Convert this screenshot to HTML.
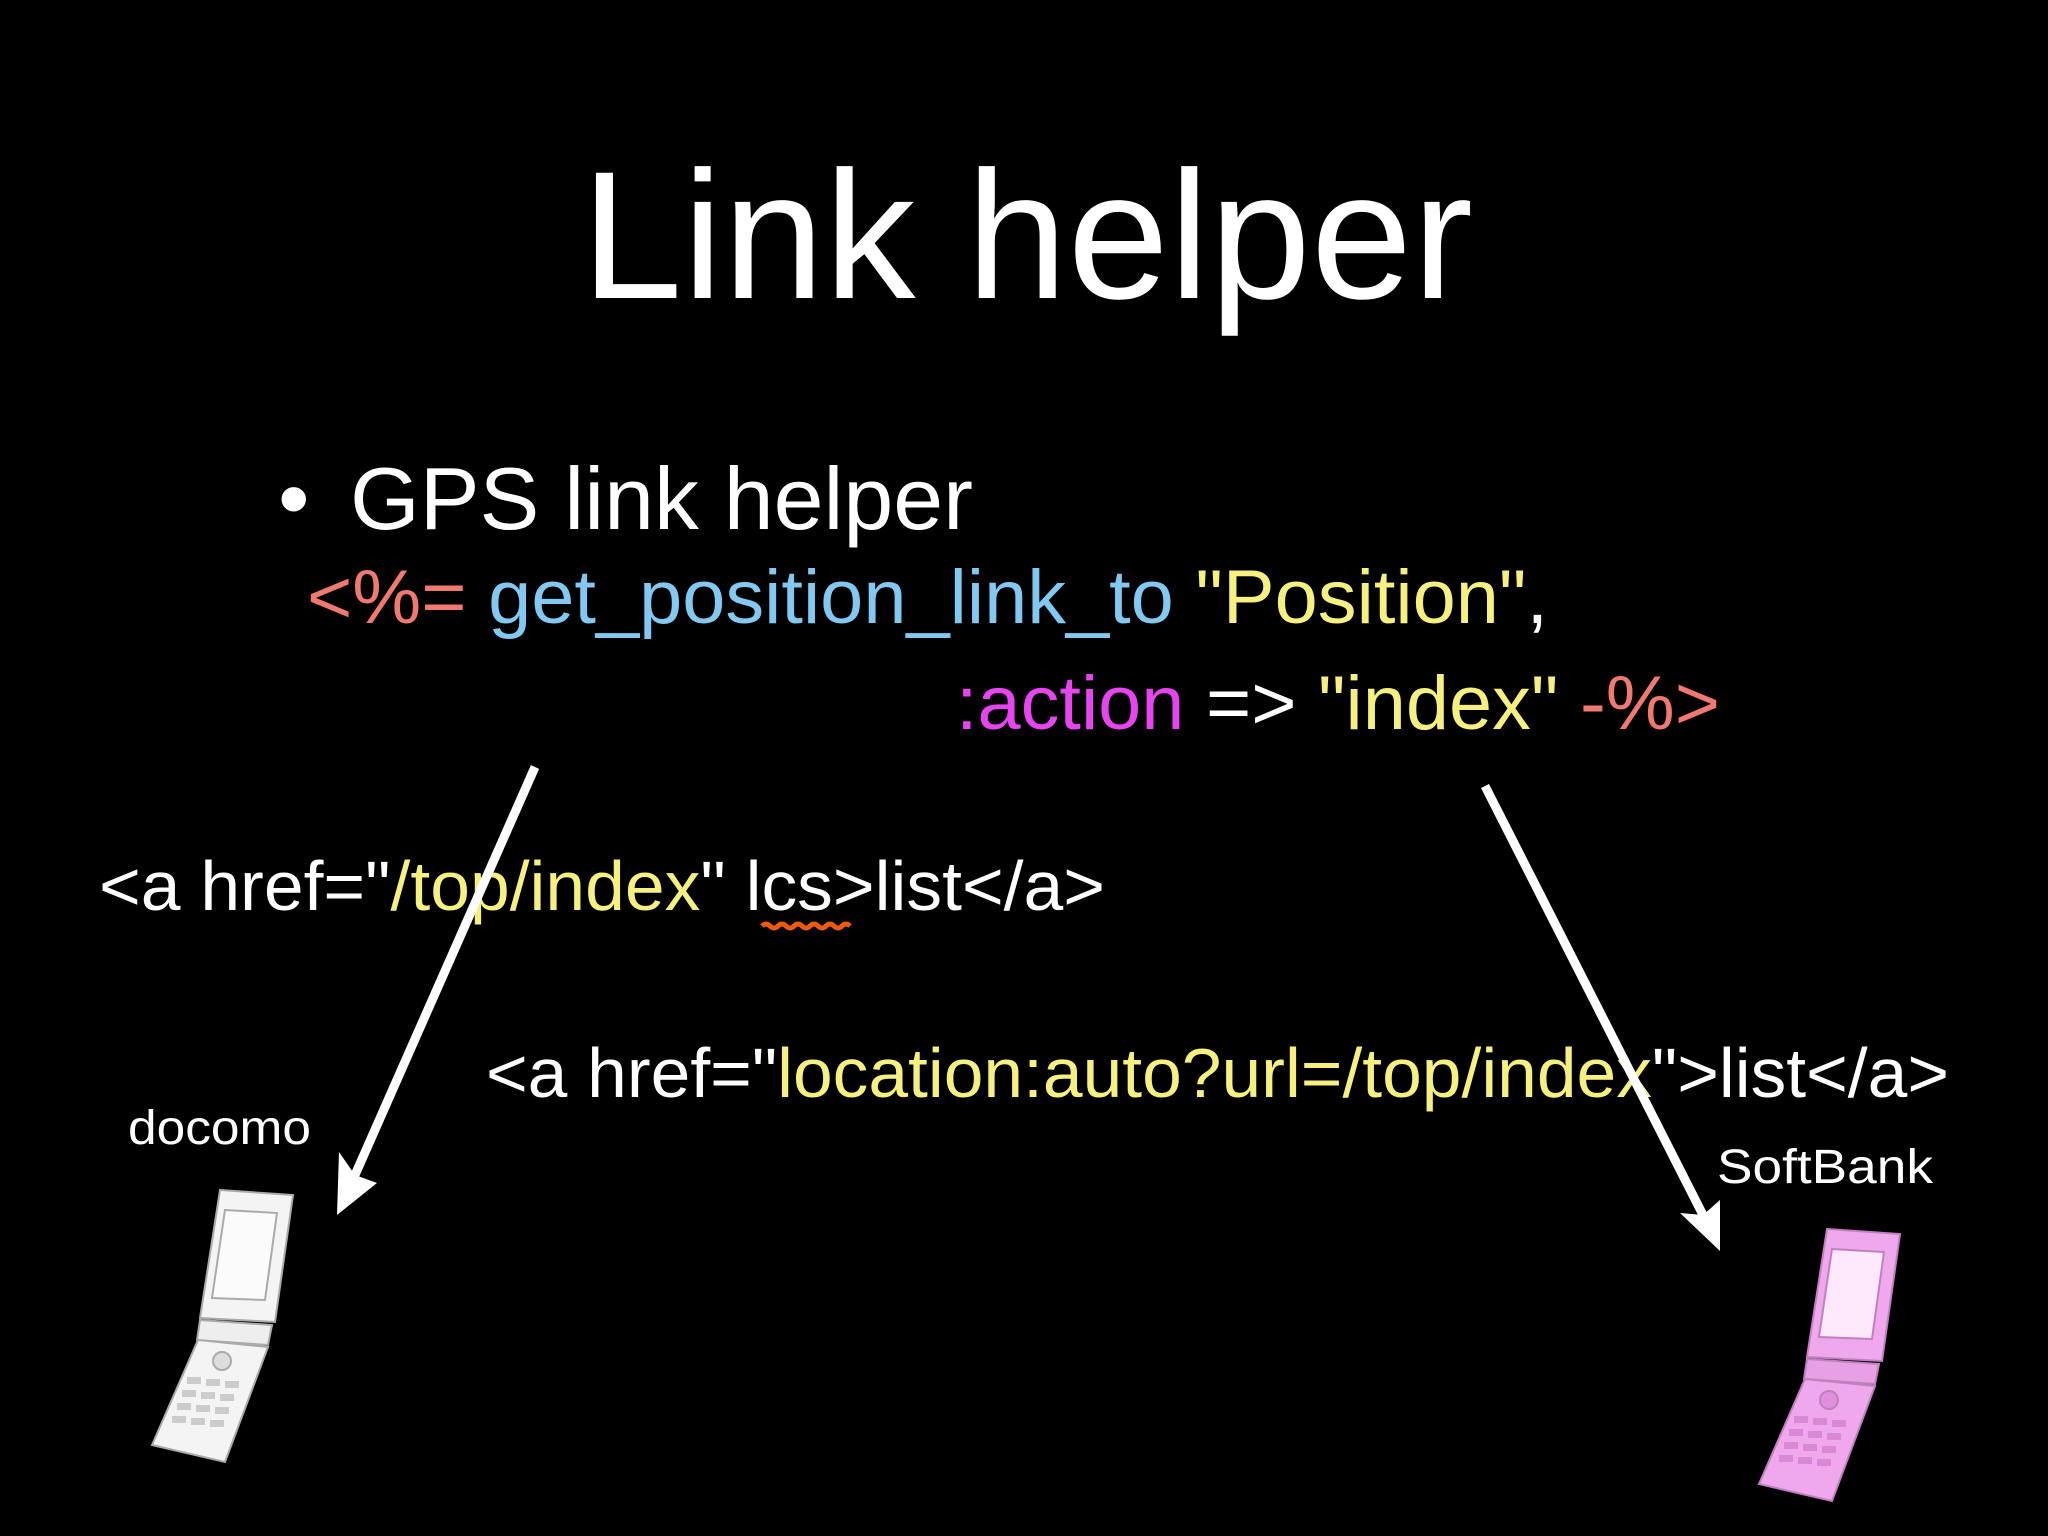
<!DOCTYPE html>
<html><head><meta charset="utf-8"><style>
html,body{margin:0;padding:0;background:#000;}
svg{display:block;}
text{font-family:"Liberation Sans","DejaVu Sans",sans-serif;}
</style></head><body>
<svg width="2048" height="1536" viewBox="0 0 2048 1536" xmlns="http://www.w3.org/2000/svg">
<rect width="2048" height="1536" fill="#000"/>
<text x="581" y="298" font-size="182" fill="#fff" textLength="892" lengthAdjust="spacingAndGlyphs">Link helper</text>
<text x="278" y="529" font-size="90" fill="#fff">•</text>
<text x="350" y="529" font-size="88" fill="#fff" textLength="623" lengthAdjust="spacingAndGlyphs">GPS link helper</text>
<text x="307" y="623" font-size="76" textLength="1241" lengthAdjust="spacingAndGlyphs"><tspan fill="#f07a70">&lt;%=</tspan><tspan fill="#fff"> </tspan><tspan fill="#82c8f0">get_position_link_to</tspan><tspan fill="#fff"> </tspan><tspan fill="#f5f080">"Position"</tspan><tspan fill="#fff">,</tspan></text>
<text x="956" y="729" font-size="76" textLength="764" lengthAdjust="spacingAndGlyphs"><tspan fill="#e645f0">:action</tspan><tspan fill="#fff"> =&gt; </tspan><tspan fill="#f5f080">"index"</tspan><tspan fill="#fff"> </tspan><tspan fill="#f07a70">-%&gt;</tspan></text>
<text x="99" y="910" font-size="70" textLength="1006" lengthAdjust="spacingAndGlyphs"><tspan fill="#fff">&lt;a href="</tspan><tspan fill="#f5f080">/top/index</tspan><tspan fill="#fff">" lcs&gt;list&lt;/a&gt;</tspan></text>
<path d="M762 926 q4 -4 8 0 t8 0 t8 0 t8 0 t8 0 t8 0 t8 0 t8 0 t8 0 t8 0 t8 0" stroke="#f05a10" stroke-width="5" fill="none"/>
<text x="486" y="1097" font-size="70" textLength="1463" lengthAdjust="spacingAndGlyphs"><tspan fill="#fff">&lt;a href="</tspan><tspan fill="#f5f080">location:auto?url=/top/index</tspan><tspan fill="#fff">"&gt;list&lt;/a&gt;</tspan></text>
<text x="128" y="1144" font-size="48" fill="#fff" textLength="183" lengthAdjust="spacingAndGlyphs">docomo</text>
<text x="1717" y="1183" font-size="48" fill="#fff" textLength="216" lengthAdjust="spacingAndGlyphs">SoftBank</text>
<!-- arrows -->
<line x1="535" y1="767" x2="355" y2="1175" stroke="#fff" stroke-width="9"/>
<polygon points="337,1215 339,1152 355,1175 377,1183" fill="#fff"/>
<line x1="1485" y1="786" x2="1703" y2="1215" stroke="#fff" stroke-width="9"/>
<polygon points="1720,1251 1680,1213 1703,1215 1720,1200" fill="#fff"/>
<!-- left phone -->
<g stroke="#aaa" stroke-width="2">
<polygon points="220,1190 293,1195 275,1322 200,1318" fill="#f4f4f4"/>
<polygon points="225,1210 277,1213 265,1300 212,1298" fill="#fbfbfb"/>
<polygon points="200,1320 272,1325 268,1345 197,1340" fill="#eee"/>
<polygon points="198,1340 268,1347 225,1462 152,1445" fill="#f4f4f4"/>
<circle cx="222" cy="1361" r="9" fill="#ddd"/>
<g fill="#ccc" stroke="none">
<rect x="187" y="1377" width="14" height="7"/><rect x="206" y="1379" width="14" height="7"/><rect x="225" y="1381" width="14" height="7"/>
<rect x="182" y="1390" width="14" height="7"/><rect x="201" y="1392" width="14" height="7"/><rect x="220" y="1394" width="14" height="7"/>
<rect x="177" y="1403" width="14" height="7"/><rect x="196" y="1405" width="14" height="7"/><rect x="215" y="1407" width="14" height="7"/>
<rect x="172" y="1416" width="14" height="7"/><rect x="191" y="1418" width="14" height="7"/><rect x="210" y="1420" width="14" height="7"/>
</g>
</g>
<!-- right phone -->
<g transform="translate(1607,39)" stroke="#c080c0" stroke-width="2">
<polygon points="220,1190 293,1195 275,1322 200,1318" fill="#f0a8ec"/>
<polygon points="225,1210 277,1213 265,1300 212,1298" fill="#fde8fb"/>
<polygon points="200,1320 272,1325 268,1345 197,1340" fill="#e8a0e4"/>
<polygon points="198,1340 268,1347 225,1462 152,1445" fill="#f0a8ec"/>
<circle cx="222" cy="1361" r="9" fill="#e090dc"/>
<g fill="#d888d4" stroke="none">
<rect x="187" y="1377" width="14" height="7"/><rect x="206" y="1379" width="14" height="7"/><rect x="225" y="1381" width="14" height="7"/>
<rect x="182" y="1390" width="14" height="7"/><rect x="201" y="1392" width="14" height="7"/><rect x="220" y="1394" width="14" height="7"/>
<rect x="177" y="1403" width="14" height="7"/><rect x="196" y="1405" width="14" height="7"/><rect x="215" y="1407" width="14" height="7"/>
<rect x="172" y="1416" width="14" height="7"/><rect x="191" y="1418" width="14" height="7"/><rect x="210" y="1420" width="14" height="7"/>
</g>
</g>
</svg>
</body></html>
